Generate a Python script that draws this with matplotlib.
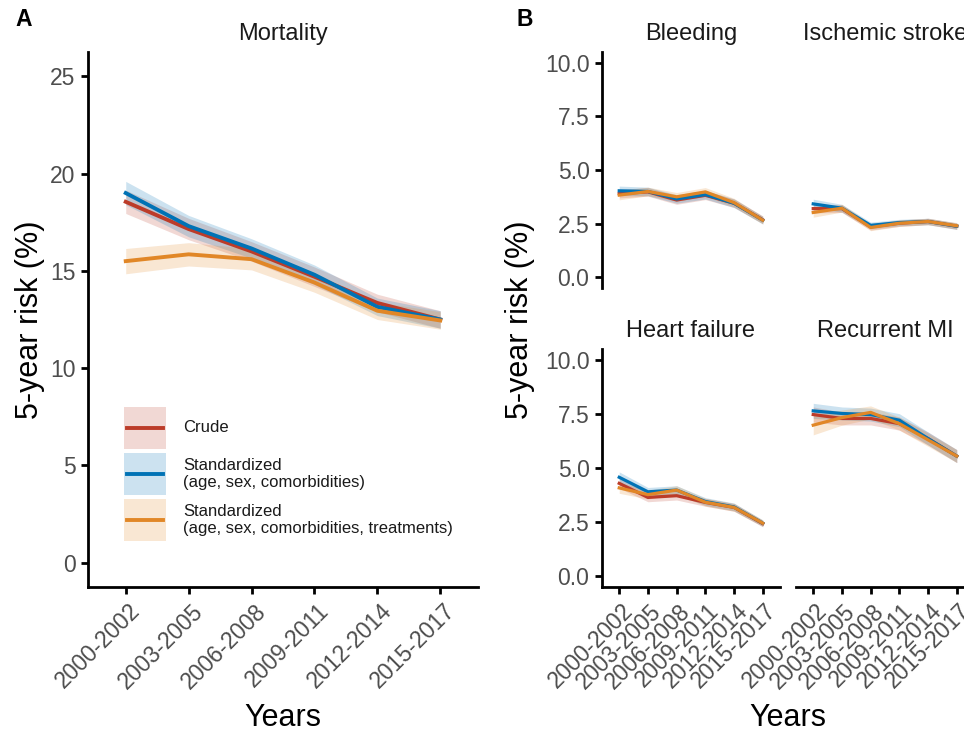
import numpy as np
import matplotlib.pyplot as plt
from matplotlib.lines import Line2D
from matplotlib.patches import Rectangle
from matplotlib.transforms import ScaledTranslation

plt.rcParams['font.family'] = ['Liberation Sans', 'DejaVu Sans']

# periods on the x axis
years = ["2000-2002", "2003-2005", "2006-2008", "2009-2011", "2012-2014", "2015-2017"]
labels = ["Crude",
          "Standardized\n(age, sex, comorbidities)",
          "Standardized\n(age, sex, comorbidities, treatments)"]

# 5-year risk (%) estimates, with half width of the confidence band
mort_crude = [18.55, 17.15, 16.0, 14.7, 13.35, 12.5]
mort_crude_ci = [0.6, 0.55, 0.5, 0.5, 0.45, 0.45]
mort_std = [19.0, 17.3, 16.15, 14.8, 13.15, 12.5]
mort_std_ci = [0.6, 0.55, 0.5, 0.5, 0.45, 0.45]
mort_std_trt = [15.5, 15.85, 15.6, 14.4, 12.95, 12.45]
mort_std_trt_ci = [0.65, 0.6, 0.55, 0.5, 0.45, 0.45]

bleed_crude = [3.9, 3.98, 3.6, 3.82, 3.45, 2.68]
bleed_crude_ci = [0.2, 0.2, 0.2, 0.2, 0.2, 0.18]
bleed_std = [4.03, 4.0, 3.65, 3.85, 3.45, 2.66]
bleed_std_ci = [0.22, 0.2, 0.2, 0.2, 0.2, 0.18]
bleed_std_trt = [3.83, 4.0, 3.75, 3.98, 3.48, 2.66]
bleed_std_trt_ci = [0.22, 0.2, 0.2, 0.2, 0.2, 0.18]

stroke_crude = [3.2, 3.2, 2.35, 2.52, 2.6, 2.38]
stroke_crude_ci = [0.2, 0.18, 0.15, 0.15, 0.15, 0.15]
stroke_std = [3.42, 3.22, 2.42, 2.55, 2.6, 2.38]
stroke_std_ci = [0.22, 0.18, 0.15, 0.15, 0.15, 0.15]
stroke_std_trt = [3.02, 3.22, 2.32, 2.52, 2.6, 2.4]
stroke_std_trt_ci = [0.22, 0.18, 0.15, 0.15, 0.15, 0.15]

hf_crude = [4.29, 3.64, 3.72, 3.41, 3.18, 2.43]
hf_crude_ci = [0.22, 0.2, 0.2, 0.18, 0.18, 0.15]
hf_std = [4.57, 3.9, 3.98, 3.45, 3.2, 2.45]
hf_std_ci = [0.25, 0.2, 0.2, 0.18, 0.18, 0.15]
hf_std_trt = [4.08, 3.77, 3.98, 3.42, 3.18, 2.45]
hf_std_trt_ci = [0.25, 0.2, 0.2, 0.18, 0.18, 0.15]

mi_crude = [7.47, 7.29, 7.29, 7.05, 6.36, 5.55]
mi_crude_ci = [0.35, 0.3, 0.3, 0.3, 0.3, 0.3]
mi_std = [7.64, 7.52, 7.47, 7.21, 6.36, 5.55]
mi_std_ci = [0.35, 0.3, 0.3, 0.3, 0.3, 0.3]
mi_std_trt = [6.98, 7.33, 7.57, 7.05, 6.3, 5.55]
mi_std_trt_ci = [0.45, 0.35, 0.3, 0.3, 0.3, 0.3]

RED, BLUE, ORANGE = "#BC3C29", "#0072B5", "#E18727"
W, H = 964, 733
TICK_GREY = "#4D4D4D"


def rect(l, t, r, b):
    # pixel box -> figure fraction
    return [l / W, 1 - b / H, (r - l) / W, (b - t) / H]


def draw(ax, series, lw):
    x = np.arange(len(years))
    for est, ci, col in series:
        est, ci = np.array(est), np.array(ci)
        ax.fill_between(x, est - ci, est + ci, color=col, alpha=0.2, lw=0)
    for est, ci, col in series:
        ax.plot(x, est, color=col, lw=lw, solid_joinstyle='round')


def style(ax, ylim, yticks, yfmt, show_x, show_y, xlabel_dx):
    ax.set_xlim(-0.6, len(years) - 0.4)
    ax.set_ylim(*ylim)
    for s in ['top', 'right']:
        ax.spines[s].set_visible(False)
    ax.spines['left'].set_visible(show_y)
    ax.spines['bottom'].set_visible(show_x)
    for s in ['left', 'bottom']:
        ax.spines[s].set_linewidth(2)
    ax.tick_params(width=2, length=5, labelsize=16.5, labelcolor=TICK_GREY, pad=4)
    if show_y:
        ax.set_yticks(yticks, [yfmt.format(v) for v in yticks])
    else:
        ax.set_yticks([])
    if show_x:
        ax.set_xticks(np.arange(len(years)), years, rotation=45, ha='right',
                      va='top', rotation_mode='anchor')
        off = ScaledTranslation(xlabel_dx / 100, 0, ax.figure.dpi_scale_trans)
        for t in ax.get_xticklabels():
            t.set_transform(t.get_transform() + off)
    else:
        ax.set_xticks([])


fig = plt.figure(figsize=(W / 100, H / 100), dpi=100)

# panel A
A_BOX = (88, 52, 478, 587)
axA = fig.add_axes(rect(*A_BOX))
draw(axA, [(mort_crude, mort_crude_ci, RED),
           (mort_std, mort_std_ci, BLUE),
           (mort_std_trt, mort_std_trt_ci, ORANGE)], 2.8)
style(axA, (-1.25, 26.25), [0, 5, 10, 15, 20, 25], "{:g}", True, True, 3)


def ax_frac(px, py):
    return ((px - A_BOX[0]) / (A_BOX[2] - A_BOX[0]),
            (A_BOX[3] - py) / (A_BOX[3] - A_BOX[1]))


# legend: shaded key with line, label centred on the key
for i, (col, lab) in enumerate(zip((RED, BLUE, ORANGE), labels)):
    top = 407 + i * 46
    x0, y0 = ax_frac(124, top + 42)
    x1, y1 = ax_frac(166, top)
    axA.add_patch(Rectangle((x0, y0), x1 - x0, y1 - y0, transform=axA.transAxes,
                            facecolor=col, alpha=0.2, edgecolor='none'))
    lx0, ly = ax_frac(127, top + 21)
    lx1, _ = ax_frac(163, top + 21)
    axA.add_line(Line2D([lx0, lx1], [ly, ly], transform=axA.transAxes,
                        color=col, lw=2.8))
    tx, ty = ax_frac(183, top + 21)
    axA.text(tx, ty, lab, transform=axA.transAxes, fontsize=12,
             ha='left', va='center', linespacing=1.15, color='#1A1A1A')

# panel B facets
ylimB = (-0.5, 10.5)
ticksB = [0, 2.5, 5, 7.5, 10]
facets = [
    ("Bleeding", (602, 52, 780, 288), False, True,
     [(bleed_crude, bleed_crude_ci, RED), (bleed_std, bleed_std_ci, BLUE),
      (bleed_std_trt, bleed_std_trt_ci, ORANGE)]),
    ("Ischemic stroke", (796, 52, 974, 288), False, False,
     [(stroke_crude, stroke_crude_ci, RED), (stroke_std, stroke_std_ci, BLUE),
      (stroke_std_trt, stroke_std_trt_ci, ORANGE)]),
    ("Heart failure", (602, 349, 780, 587), True, True,
     [(hf_crude, hf_crude_ci, RED), (hf_std, hf_std_ci, BLUE),
      (hf_std_trt, hf_std_trt_ci, ORANGE)]),
    ("Recurrent MI", (796, 349, 974, 587), True, False,
     [(mi_crude, mi_crude_ci, RED), (mi_std, mi_std_ci, BLUE),
      (mi_std_trt, mi_std_trt_ci, ORANGE)]),
]
for title, box, sx, sy, series in facets:
    ax = fig.add_axes(rect(*box))
    draw(ax, series, 2.3)
    style(ax, ylimB, ticksB, "{:.1f}", sx, sy, 2)
    cx = (box[0] + box[2]) / 2
    fig.text(cx / W, 1 - (box[1] - 12) / H, title, fontsize=17,
             ha='center', va='baseline', color='#1A1A1A')

fig.text(283 / W, 1 - 40 / H, "Mortality", fontsize=17, ha='center',
         va='baseline', color='#1A1A1A')

# axis titles and panel tags
for x in (30, 520):
    fig.text(x / W, 1 - 320 / H, "5-year risk (%)", fontsize=22,
             rotation=90, ha='center', va='center')
for x in (283, 788):
    fig.text(x / W, 1 - 726 / H, "Years", fontsize=22, ha='center', va='baseline')
fig.text(24 / W, 1 - 20 / H, "A", fontsize=16.5, weight='bold', ha='center', va='center')
fig.text(525 / W, 1 - 20 / H, "B", fontsize=16.5, weight='bold', ha='center', va='center')

fig.savefig("out.png", dpi=100)
